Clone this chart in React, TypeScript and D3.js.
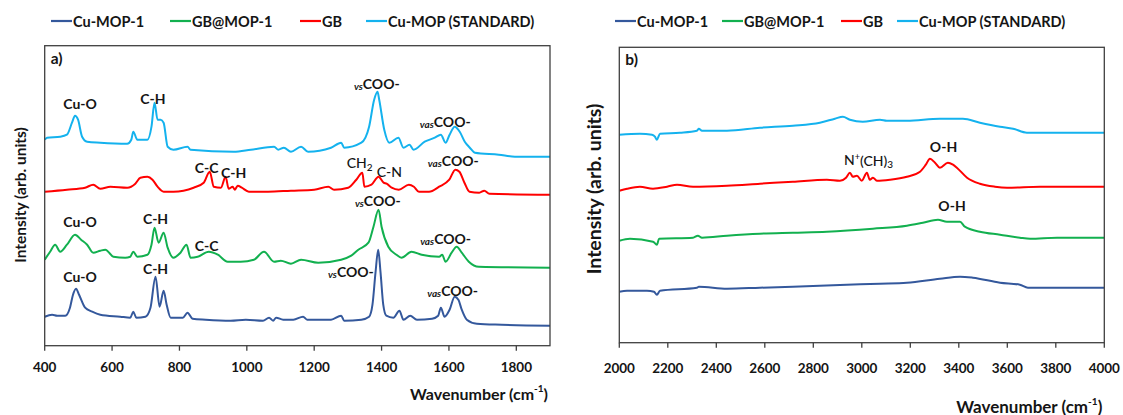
import React from "react";
import * as d3 from "d3";

// ---------- DATA (wavenumber cm-1, intensity arb. units incl. offset) ----------
const ticksA = [400, 600, 800, 1000, 1200, 1400, 1600, 1800];
const ticksB = [2000, 2200, 2400, 2600, 2800, 3000, 3200, 3400, 3600, 3800, 4000];

const seriesNames = ["Cu-MOP-1", "GB@MOP-1", "GB", "Cu-MOP (STANDARD)"];
const seriesColors = ["#34589c", "#12b04f", "#ff0000", "#14b2ee"];

const cuMop1A: [number, number][] = [
  [400, 29], [422, 31], [437, 30], [461, 30], [475, 38], [484, 51], [493, 57], [502, 51], [520, 38],
  [541, 34], [565, 31], [624, 29], [654, 28], [663, 34], [672, 28], [699, 29], [714, 38], [729, 69],
  [741, 39], [753, 55], [762, 41], [774, 28], [810, 28], [824, 33], [839, 27], [878, 26], [952, 25],
  [997, 26], [1048, 25], [1066, 28], [1078, 25], [1087, 28], [1108, 26], [1138, 26], [1167, 29],
  [1179, 26], [1250, 26], [1280, 30], [1289, 25], [1340, 26], [1363, 29], [1373, 41], [1382, 73],
  [1390, 96], [1397, 73], [1405, 41], [1414, 30], [1435, 28], [1453, 35], [1465, 26], [1485, 30],
  [1505, 26], [1550, 27], [1568, 30], [1576, 38], [1587, 29], [1602, 36], [1617, 49], [1628, 46],
  [1638, 36], [1653, 26], [1683, 22], [1757, 21], [1900, 20],
];
const gbMop1A: [number, number][] = [
  [400, 86], [416, 94], [431, 101], [446, 94], [466, 101], [490, 111], [508, 106], [526, 101],
  [544, 93], [565, 95], [580, 96], [604, 89], [639, 88], [654, 89], [663, 94], [675, 89], [705, 91],
  [717, 101], [726, 118], [738, 103], [753, 113], [765, 98], [782, 88], [803, 93], [821, 101],
  [833, 88], [854, 89], [887, 94], [914, 91], [943, 84], [982, 84], [1021, 86], [1051, 94],
  [1081, 84], [1101, 85], [1131, 82], [1161, 86], [1212, 83], [1280, 86], [1310, 90], [1331, 96],
  [1361, 103], [1376, 119], [1391, 136], [1400, 119], [1420, 99], [1444, 91], [1459, 88], [1489, 94],
  [1519, 91], [1571, 89], [1580, 91], [1590, 84], [1608, 93], [1623, 99], [1638, 93], [1659, 84],
  [1689, 79], [1900, 78],
];
const gbA: [number, number][] = [
  [400, 154], [466, 156], [520, 158], [544, 161], [565, 157], [595, 159], [645, 158], [669, 162],
  [684, 168], [705, 169], [720, 166], [735, 159], [753, 154], [782, 154], [842, 158], [872, 163],
  [890, 174], [902, 159], [923, 158], [937, 169], [946, 157], [958, 159], [964, 156], [973, 160],
  [985, 158], [1006, 154], [1063, 154], [1131, 155], [1200, 156], [1242, 159], [1259, 156],
  [1301, 158], [1325, 166], [1343, 173], [1349, 159], [1370, 161], [1391, 169], [1406, 163],
  [1415, 162], [1430, 158], [1451, 156], [1481, 161], [1496, 159], [1511, 154], [1541, 154],
  [1571, 159], [1601, 166], [1619, 176], [1631, 174], [1646, 163], [1661, 154], [1690, 153],
  [1705, 155], [1720, 152], [1900, 151],
];
const cuMopStdA: [number, number][] = [
  [400, 206], [407, 208], [446, 209], [466, 211], [481, 223], [490, 230], [499, 226], [511, 209],
  [526, 204], [565, 203], [645, 202], [657, 206], [663, 214], [675, 206], [705, 206], [717, 219],
  [726, 243], [735, 226], [744, 226], [753, 223], [765, 199], [782, 196], [824, 199], [833, 196],
  [961, 194], [1012, 196], [1081, 199], [1093, 196], [1110, 198], [1131, 194], [1161, 199],
  [1182, 194], [1250, 198], [1280, 203], [1289, 198], [1340, 203], [1363, 219], [1378, 246],
  [1388, 254], [1393, 246], [1408, 216], [1423, 203], [1450, 208], [1465, 198], [1483, 201],
  [1495, 196], [1528, 204], [1558, 208], [1576, 211], [1590, 203], [1602, 211], [1617, 219],
  [1632, 214], [1647, 204], [1662, 198], [1677, 193], [1748, 191], [1796, 189], [1900, 189],
];

const cuMop1B: [number, number][] = [
  [2000, 51], [2032, 52], [2114, 52], [2143, 51], [2155, 48], [2168, 52], [2320, 55], [2328, 56],
  [2444, 54], [2580, 55], [2716, 56], [2938, 58], [3075, 59], [3186, 60], [3322, 64], [3405, 66],
  [3458, 65], [3570, 60], [3652, 58], [3685, 55], [4000, 55],
];
const gbMop1B: [number, number][] = [
  [2000, 102], [2044, 104], [2139, 101], [2155, 98], [2164, 104], [2304, 105], [2324, 107],
  [2341, 105], [2444, 107], [2580, 109], [2716, 110], [2856, 111], [3046, 114], [3186, 117],
  [3252, 120], [3314, 123], [3351, 121], [3405, 121], [3425, 116], [3487, 111], [3570, 108],
  [3652, 105], [3694, 104], [3805, 105], [4000, 105],
];
const gbB: [number, number][] = [
  [2000, 152], [2032, 154], [2085, 156], [2139, 154], [2197, 156], [2238, 158], [2304, 156],
  [2444, 157], [2580, 159], [2716, 161], [2856, 163], [2910, 162], [2935, 165], [2951, 170],
  [2963, 166], [2980, 167], [3000, 162], [3021, 170], [3033, 163], [3046, 165], [3062, 162],
  [3116, 163], [3186, 166], [3240, 171], [3264, 178], [3281, 184], [3302, 180], [3322, 175],
  [3355, 180], [3376, 178], [3392, 175], [3434, 165], [3487, 159], [3549, 156], [3599, 155],
  [3735, 156], [4000, 156],
];
const cuMopStdB: [number, number][] = [
  [2000, 208], [2085, 209], [2135, 208], [2147, 206], [2155, 203], [2168, 209], [2250, 210],
  [2320, 212], [2328, 214], [2341, 212], [2444, 212], [2580, 215], [2716, 217], [2827, 220],
  [2889, 224], [2922, 226], [2951, 223], [3004, 221], [3075, 223], [3103, 222], [3186, 222],
  [3322, 224], [3417, 224], [3487, 220], [3570, 216], [3624, 214], [3681, 210], [3764, 210],
  [4000, 210],
];

// annotations: [wavenumber, intensity, main text, kind]
const annotationsA: [number, number, string, string][] = [
  [505, 242, "Cu-O", ""], [721, 247, "C-H", ""], [1386, 263, "COO-", "vs"], [1589, 225, "COO-", "vas"],
  [881, 178, "C-C", ""], [961, 173, "C-H", ""], [1335, 183, "CH", "sub2"], [1423, 174, "C-N", "light"],
  [1613, 186, "COO-", "vas"],
  [505, 124, "Cu-O", ""], [729, 127, "C-H", ""], [881, 100, "C-C", ""], [1389, 146, "COO-", "vs"],
  [1590, 108, "COO-", "vas"],
  [505, 69, "Cu-O", ""], [729, 77, "C-H", ""], [1309, 75, "COO-", "vs"], [1611, 56, "COO-", "vas"],
];
const annotationsB: [number, number, string, string][] = [
  [3028, 183, "N", "nch3"], [3337, 196, "O-H", ""], [3372, 137, "O-H", ""],
];

// ---------- LAYOUT ----------
const W = 1123, H = 415;
const A = { l: 44.7, r: 550, t: 45.7, b: 345.7 };
const B = { l: 619.3, r: 1104.3, t: 47.3, b: 342.7 };
const FONT = "Lato, 'Open Sans', sans-serif";
const AXIS = "#3f3f3f";
const INK = "#151515";

const xA = d3.scaleLinear().domain([400, 1900]).range([A.l, A.r]);
const yA = d3.scaleLinear().domain([0, 300]).range([A.b, A.t]);
const xB = d3.scaleLinear().domain([2000, 4000]).range([B.l, B.r]);
const yB = d3.scaleLinear().domain([0, 295.4]).range([B.b, B.t]);

function Ann({ a, x, y }: { a: [number, number, string, string]; x: any; y: any }) {
  const [wn, iv, txt, kind] = a;
  const cx = x(wn), cy = y(iv);
  const common = { fontFamily: FONT, fontWeight: 700, fill: INK, textAnchor: "middle" as const, dominantBaseline: "central" as const };
  if (kind === "vs" || kind === "vas") {
    return (
      <text x={cx} y={cy} {...common} fontSize={14}>
        <tspan fontStyle="italic" fontSize={10} dy={3}>{kind}</tspan>
        <tspan dy={-3}>{txt}</tspan>
      </text>
    );
  }
  if (kind === "sub2") {
    return (
      <text x={cx} y={cy} {...common} fontWeight={500} fontSize={14}>
        {txt}<tspan fontSize={10} dy={4}>2</tspan>
      </text>
    );
  }
  if (kind === "light") {
    return <text x={cx} y={cy} {...common} fontWeight={500} fontSize={14}>{txt}</text>;
  }
  if (kind === "nch3") {
    return (
      <text x={cx} y={cy} {...common} fontWeight={500} fontSize={14}>
        N<tspan fontSize={9} dy={-4}>+</tspan><tspan dy={4}>(CH)</tspan><tspan fontSize={10} dy={4}>3</tspan>
      </text>
    );
  }
  return <text x={cx} y={cy} {...common} fontSize={14}>{txt}</text>;
}

function Legend({ xs, y }: { xs: number[]; y: number }) {
  return (
    <g>
      {seriesNames.map((n, i) => (
        <g key={n}>
          <line x1={xs[i]} x2={xs[i] + 21} y1={y} y2={y} stroke={seriesColors[i]} strokeWidth={2.2} />
          <text x={xs[i] + 22} y={y} dominantBaseline="central" fontFamily={FONT} fontWeight={700} fontSize={14.5} fill={INK}>{n}</text>
        </g>
      ))}
    </g>
  );
}

function Panel({ P, x, y, data, ticks, ann, label, id, tickY, titleY, titleSize, yTitleX, yTitleSize, yTitleCy }: any) {
  const line = d3.line<[number, number]>().x((d) => x(d[0])).y((d) => y(d[1])).curve(d3.curveMonotoneX);
  return (
    <g>
      <defs>
        <clipPath id={id}><rect x={P.l} y={P.t} width={P.r - P.l} height={P.b - P.t} /></clipPath>
      </defs>
      <g clipPath={`url(#${id})`}>
        {data.map((s: [number, number][], i: number) => (
          <path key={i} d={line(s) || ""} fill="none" stroke={seriesColors[i]} strokeWidth={2} strokeLinejoin="round" />
        ))}
      </g>
      <rect x={P.l} y={P.t} width={P.r - P.l} height={P.b - P.t} fill="none" stroke={AXIS} strokeWidth={1.3} />
      {ticks.map((t: number) => (
        <g key={t}>
          <line x1={x(t)} x2={x(t)} y1={P.b} y2={P.b + 5} stroke={AXIS} strokeWidth={1.3} />
          <text x={x(t)} y={tickY} textAnchor="middle" dominantBaseline="central" fontFamily={FONT} fontWeight={700} fontSize={13.5} fill={INK}>{t}</text>
        </g>
      ))}
      <text x={P.l + 6} y={P.t + 12} dominantBaseline="central" fontFamily={FONT} fontWeight={700} fontSize={15.5} fill={INK}>{label}</text>
      {ann.map((a: any, i: number) => <Ann key={i} a={a} x={x} y={y} />)}
      <text x={P.r - 2} y={titleY} textAnchor="end" dominantBaseline="central" fontFamily={FONT} fontWeight={700} fontSize={titleSize} fill={INK}>
        Wavenumber (cm<tspan fontSize={10} dy={-5}>-1</tspan><tspan dy={5}>)</tspan>
      </text>
      <text transform={`translate(${yTitleX},${yTitleCy}) rotate(-90)`} textAnchor="middle" dominantBaseline="central" fontFamily={FONT} fontWeight={700} fontSize={yTitleSize} fill={INK}>
        Intensity (arb. units)
      </text>
    </g>
  );
}

export default function App() {
  return (
    <svg width={W} height={H} style={{ position: "absolute", left: 0, top: 0, background: "#fff" }}>
      <rect width={W} height={H} fill="#fff" />
      <Legend xs={[51, 170, 300, 366]} y={21} />
      <Legend xs={[615, 722, 841, 897]} y={21} />
      <Panel P={A} x={xA} y={yA} data={[cuMop1A, gbMop1A, gbA, cuMopStdA]} ticks={ticksA} ann={annotationsA}
        label="a)" id="clipA" tickY={367} titleY={393} titleSize={16} yTitleX={20} yTitleSize={15.5} yTitleCy={195} />
      <Panel P={B} x={xB} y={yB} data={[cuMop1B, gbMop1B, gbB, cuMopStdB]} ticks={ticksB} ann={annotationsB}
        label="b)" id="clipB" tickY={368} titleY={406} titleSize={17} yTitleX={593} yTitleSize={19.5} yTitleCy={189} />
    </svg>
  );
}
